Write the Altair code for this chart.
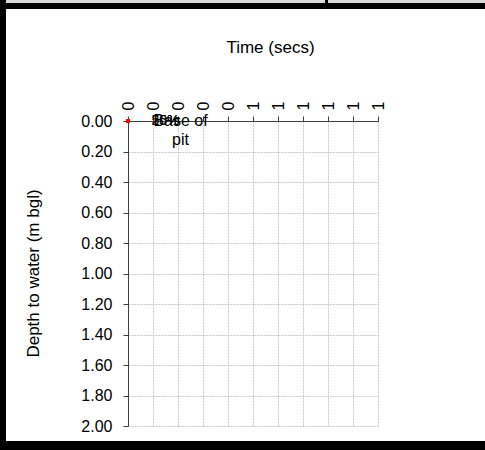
import altair as alt
import pandas as pd

# ---- data ----
time_secs = [0.0]
depth_m = [0.0]

x_ticks = [0.0, 0.1, 0.2, 0.3, 0.4, 0.5, 0.6, 0.7, 0.8, 0.9, 1.0]
y_ticks = [0.0, 0.2, 0.4, 0.6, 0.8, 1.0, 1.2, 1.4, 1.6, 1.8, 2.0]

pct_labels = ["25%", "50%"]
pct_time = [0.15, 0.15]
pct_depth = [0.0, 0.0]

pit_label = ["Base of\npit"]
pit_time = [0.21]
pit_depth = [0.0]

FONT = "Liberation Sans"

pts = pd.DataFrame({"time": time_secs, "depth": depth_m})
pct_df = pd.DataFrame({"time": pct_time, "depth": pct_depth, "label": pct_labels})
pit_df = pd.DataFrame({"time": pit_time, "depth": pit_depth, "label": pit_label})

xscale = alt.Scale(domain=[0, 1], nice=False, zero=False)
yscale = alt.Scale(domain=[0, 2], nice=False, reverse=True)

x_axis = alt.Axis(
    orient="top", values=x_ticks, format=".0f", labelAngle=270,
    labelAlign="left", labelBaseline="middle", labelFont=FONT, labelFontSize=16,
    labelColor="black", labelPadding=6, tickSize=5, tickColor="#404040",
    domainColor="#404040", grid=True, gridColor="#c8c8c8", gridDash=[2, 1],
    title="Time (secs)", titleFont=FONT, titleFontSize=17, titleFontWeight="normal",
    titleColor="black", titleX=142, titleY=-74, titleAlign="center",
    titleBaseline="middle", titleAngle=0, labelOverlap=False, labelFlush=False,
)
y_axis = alt.Axis(
    values=y_ticks, format=".2f", labelFont=FONT, labelFontSize=16,
    labelColor="black", labelPadding=11, tickSize=5, tickColor="#404040",
    domainColor="#404040", grid=True, gridColor="#c8c8c8", gridDash=[2, 1],
    title="Depth to water (m bgl)", titleFont=FONT, titleFontSize=17,
    titleFontWeight="normal", titleColor="black", titleX=-95, titleY=152,
    titleAngle=270, titleAlign="center", titleBaseline="middle",
    labelOverlap=False, labelFlush=False,
)

X = alt.X("time:Q", scale=xscale, axis=x_axis)
Y = alt.Y("depth:Q", scale=yscale, axis=y_axis)

points = alt.Chart(pts).mark_square(size=16, color="#ff0000", opacity=1).encode(
    x=X, y=Y,
)

pct = alt.Chart(pct_df).mark_text(font=FONT, fontSize=14, color="black",
                                  align="center", baseline="middle").encode(
    x=X, y=Y, text="label:N",
)

pit = alt.Chart(pit_df).mark_text(font=FONT, fontSize=16, color="black",
                                  align="center", baseline="middle",
                                  lineBreak="\n", lineHeight=19).encode(
    x=X, y=Y, text="label:N",
)

# ---- surrounding frame (decoration, pixel offsets from plot origin) ----
frame_df = pd.DataFrame({"k": [0]})
def band(x1, x2, y1, y2, color):
    return alt.Chart(frame_df).mark_rect(color=color, opacity=1).encode(
        x=alt.value(x1), x2=alt.value(x2), y=alt.value(y1), y2=alt.value(y2)
    )

frame = [
    band(-122, 357, -121, -118, "#d9d9d9"),
    band(197, 200, -121, -118, "#000000"),
    band(-128, 357, -118, -112, "#000000"),
    band(-128, -122, -121, 329, "#000000"),
    band(-128, 357, 320, 329, "#000000"),
]

chart = alt.layer(points, pct, pit, *frame).properties(
    width=250, height=305,
    autosize=alt.AutoSizeParams(type="none"),
    padding={"left": 128, "top": 121, "right": 107, "bottom": 24},
    background="white",
).configure_view(strokeWidth=0)

chart.save("out.html", embed_options={"renderer": "svg", "actions": False})
